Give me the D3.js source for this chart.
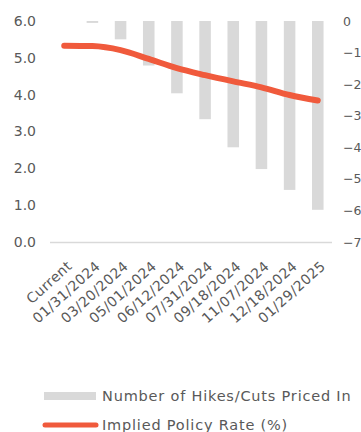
<!DOCTYPE html>
<meta charset="utf-8">
<script src="https://d3js.org/d3.v7.min.js"></script>
<style>
  body { margin: 0; background: #fff; }
  text { font-family: "DejaVu Sans", sans-serif; fill: #595959; }
</style>
<div id="chart"></div>
<script>
  // categories and series
  var dates = ["Current", "01/31/2024", "03/20/2024", "05/01/2024", "06/12/2024",
    "07/31/2024", "09/18/2024", "11/07/2024", "12/18/2024", "01/29/2025"];
  var hikesCuts = [0, -0.06, -0.58, -1.41, -2.29, -3.11, -4.0, -4.69, -5.35, -5.98];
  var policyRate = [5.33, 5.32, 5.21, 4.97, 4.72, 4.53, 4.36, 4.2, 3.99, 3.84];
  var leftTicks = [0, 1, 2, 3, 4, 5, 6];
  var rightTicks = [0, -1, -2, -3, -4, -5, -6, -7];

  var width = 361, height = 432;
  var svg = d3.select("#chart").append("svg").attr("width", width).attr("height", height);

  var x = d3.scaleBand().domain(dates).range([50, 332]).paddingInner(0.59).paddingOuter(0.3);
  var yL = d3.scaleLinear().domain([0, 6]).range([242, 21]);
  var yR = d3.scaleLinear().domain([-7, 0]).range([242, 21]);

  // bars hang from the top (0 on right axis)
  svg.selectAll("rect.bar").data(dates).enter().append("rect")
    .attr("class", "bar")
    .attr("x", function(d) { return x(d); })
    .attr("y", yR(0))
    .attr("width", x.bandwidth())
    .attr("height", function(d, i) { return yR(hikesCuts[i]) - yR(0); })
    .attr("fill", "#d9d9d9");

  // baseline
  svg.append("line").attr("x1", 50).attr("x2", 332).attr("y1", 242.5).attr("y2", 242.5)
    .attr("stroke", "#d9d9d9").attr("stroke-width", 1.5);

  // left axis
  var la = svg.append("g").attr("transform", "translate(36,0)")
    .call(d3.axisLeft(yL).tickValues(leftTicks).tickFormat(d3.format(".1f")).tickSize(0).tickPadding(0));
  la.select(".domain").remove();
  la.selectAll("text").style("font-size", "14px").attr("fill", "#595959");

  // right axis
  var ra = svg.append("g").attr("transform", "translate(343,0)")
    .call(d3.axisRight(yR).tickValues(rightTicks).tickFormat(d3.format("d")).tickSize(0).tickPadding(0));
  ra.select(".domain").remove();
  ra.selectAll("text").style("font-size", "12.5px").attr("fill", "#595959");

  // x axis labels
  var xa = svg.append("g").attr("transform", "translate(0,262)")
    .call(d3.axisBottom(x).tickSize(0).tickPadding(0));
  xa.select(".domain").remove();
  xa.selectAll("text")
    .style("font-size", "14px")
    .style("letter-spacing", "0.4px")
    .style("text-anchor", "end")
    .attr("fill", "#595959")
    .attr("dx", "0.2em")
    .attr("dy", "0.7em")
    .attr("transform", "rotate(-42)");

  // line
  var line = d3.line()
    .x(function(d, i) { return x(dates[i]) + x.bandwidth() / 2; })
    .y(function(d) { return yL(d); })
    .curve(d3.curveMonotoneX);
  svg.append("path").datum(policyRate)
    .attr("d", line)
    .attr("fill", "none")
    .attr("stroke", "#f05a3c")
    .attr("stroke-width", 6)
    .attr("stroke-linecap", "round");

  // legend
  var legend = svg.append("g");
  legend.append("rect").attr("x", 44).attr("y", 392).attr("width", 52).attr("height", 8).attr("fill", "#d9d9d9");
  legend.append("text").attr("x", 102).attr("y", 396).attr("dy", "0.35em")
    .style("font-size", "14.5px").style("letter-spacing", "0.8px").text("Number of Hikes/Cuts Priced In");
  legend.append("line").attr("x1", 45).attr("x2", 96).attr("y1", 425).attr("y2", 425)
    .attr("stroke", "#f05a3c").attr("stroke-width", 5).attr("stroke-linecap", "round");
  legend.append("text").attr("x", 102).attr("y", 425).attr("dy", "0.35em")
    .style("font-size", "14.5px").style("letter-spacing", "0.8px").text("Implied Policy Rate (%)");
</script>
